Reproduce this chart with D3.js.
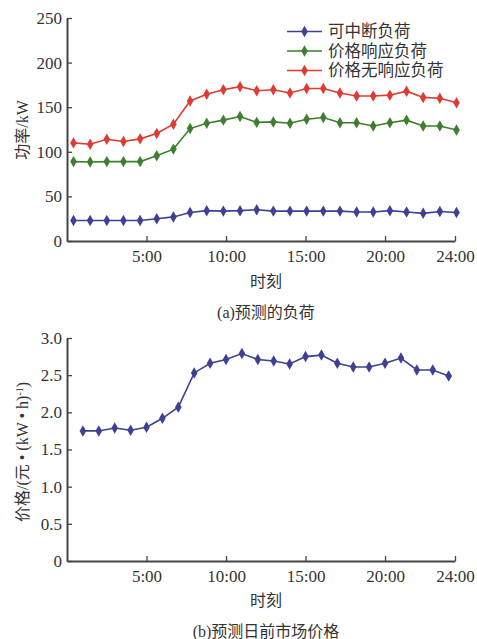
<!DOCTYPE html>
<html>
<head>
<meta charset="utf-8">
<script src="https://cdn.jsdelivr.net/npm/d3@7"></script>
<style>
  body { margin: 0; background: #fff; }
  text { font-family: "Liberation Serif", "Noto Sans CJK SC", serif; fill: #333; }
</style>
</head>
<body>
<div id="chart"></div>
<script>
// data
let hours = d3.range(1, 25);
let seriesNames = ["可中断负荷", "价格响应负荷", "价格无响应负荷"];
let interruptible = [23, 23, 23, 23, 23, 25, 27, 32, 34, 33.5, 34, 35, 33.5, 33.5, 33.5, 33.5, 33.5, 32.5, 32.5, 34, 32.5, 31, 33, 32];
let priceResponsive = [89, 88.5, 89, 89, 89, 95.5, 103, 126, 132, 135.5, 139.5, 133, 133.5, 132, 136.5, 138.5, 132.5, 132.5, 129, 132.5, 135.5, 129, 129, 124.5];
let nonResponsive = [110, 108.5, 114, 111.5, 114.5, 120.5, 131, 157, 164.5, 169.5, 173, 168.5, 169.5, 166, 171, 171, 166, 162.5, 162.5, 163.5, 168, 161, 160, 155];
let price = [1.75, 1.75, 1.79, 1.76, 1.80, 1.92, 2.07, 2.53, 2.66, 2.71, 2.79, 2.71, 2.69, 2.65, 2.75, 2.77, 2.66, 2.61, 2.61, 2.66, 2.73, 2.57, 2.57, 2.49];
let loadTicks = [0, 50, 100, 150, 200, 250];
let priceTicks = [0, 0.5, 1.0, 1.5, 2.0, 2.5, 3.0];
let timeLabels = ["5:00", "10:00", "15:00", "20:00", "24:00"];

let width = 477, height = 639;
let colors = ["#3f3f94", "#3d7f2c", "#de3b32"];

let svg = d3.select("#chart").append("svg")
  .attr("width", width)
  .attr("height", height);

// time axis shared by both panels (last label sits at the axis end)
let xTime = d3.scaleLinear().domain([0, 24.4]).range([67, 455]);
let xTop = d3.scaleLinear().domain([1, 24]).range([73.5, 456.5]);

let yLoad = d3.scaleLinear().domain([0, 250]).range([241, 18]);
let yPrice = d3.scaleLinear().domain([0, 3]).range([561, 338]);

let diamond = d3.symbol().type(d3.symbolDiamond).size(38);

function drawAxes(y, ticks, fmt, yBase) {
  let xAxis = d3.axisBottom(xTime)
    .tickValues([5, 10, 15, 20, 24.4])
    .tickFormat(function(d, i) { return timeLabels[i]; })
    .tickSizeInner(-5)
    .tickSizeOuter(0)
    .tickPadding(9);
  let gx = svg.append("g")
    .attr("transform", "translate(0," + yBase + ")")
    .call(xAxis);

  let yAxis = d3.axisLeft(y)
    .tickValues(ticks)
    .tickFormat(fmt)
    .tickSizeInner(-5)
    .tickSizeOuter(0)
    .tickPadding(5);
  let gy = svg.append("g")
    .attr("transform", "translate(" + xTime(0) + ",0)")
    .call(yAxis);

  [gx, gy].forEach(function(g) {
    g.select(".domain").attr("stroke", "#444").attr("stroke-width", 2);
    g.selectAll(".tick line").attr("stroke", "#444").attr("stroke-width", 1.3);
    g.selectAll(".tick text")
      .style("font-family", "Liberation Serif")
      .style("font-size", "17px")
      .attr("fill", "#333");
  });
}

function drawSeries(values, xs, y, color) {
  let line = d3.line()
    .x(function(d, i) { return xs(hours[i]); })
    .y(function(d) { return y(d); });

  svg.append("path")
    .datum(values)
    .attr("fill", "none")
    .attr("stroke", color)
    .attr("stroke-width", 1.6)
    .attr("d", line);

  svg.append("g").selectAll("path")
    .data(values)
    .enter().append("path")
    .attr("d", diamond)
    .attr("fill", color)
    .attr("transform", function(d, i) {
      return "translate(" + xs(hours[i]) + "," + y(d) + ")";
    });
}

// (a) forecast load
drawAxes(yLoad, loadTicks, d3.format("d"), 241);
drawSeries(interruptible, xTop, yLoad, colors[0]);
drawSeries(priceResponsive, xTop, yLoad, colors[1]);
drawSeries(nonResponsive, xTop, yLoad, colors[2]);

// legend
let legend = svg.selectAll(".legend")
  .data(seriesNames)
  .enter().append("g")
  .attr("class", "legend")
  .attr("transform", function(_, i) {
    return "translate(287," + (31.5 + i * 19.5) + ")";
  });

legend.append("line")
  .attr("x1", 0).attr("x2", 35)
  .attr("stroke", function(_, i) { return colors[i]; })
  .attr("stroke-width", 1.6);

legend.append("path")
  .attr("d", diamond)
  .attr("transform", "translate(17.5,0)")
  .attr("fill", function(_, i) { return colors[i]; });

legend.append("text")
  .attr("x", 41)
  .attr("dy", "0.35em")
  .style("font-size", "16.5px")
  .text(function(d) { return d; });

svg.append("text")
  .attr("transform", "translate(22,130) rotate(-90)")
  .attr("text-anchor", "middle")
  .attr("dy", "0.35em")
  .style("font-size", "16px")
  .text("功率/kW");

svg.append("text")
  .attr("x", 266).attr("y", 281)
  .attr("text-anchor", "middle")
  .attr("dy", "0.35em")
  .style("font-size", "16px")
  .text("时刻");

svg.append("text")
  .attr("x", 266).attr("y", 312)
  .attr("text-anchor", "middle")
  .attr("dy", "0.35em")
  .style("font-size", "16px")
  .text("(a)预测的负荷");

// (b) forecast day-ahead market price
drawAxes(yPrice, priceTicks, function(d) { return d === 0 ? "0" : d3.format(".1f")(d); }, 561);
drawSeries(price, xTime, yPrice, colors[0]);

let yLabel = svg.append("text")
  .attr("transform", "translate(22,452) rotate(-90)")
  .attr("text-anchor", "middle")
  .attr("dy", "0.35em")
  .style("font-size", "16px");
yLabel.append("tspan").text("价格/(元 • (kW • h)");
yLabel.append("tspan").attr("baseline-shift", "super").style("font-size", "10px").text("-1");
yLabel.append("tspan").text(")");

svg.append("text")
  .attr("x", 266).attr("y", 600)
  .attr("text-anchor", "middle")
  .attr("dy", "0.35em")
  .style("font-size", "16px")
  .text("时刻");

svg.append("text")
  .attr("x", 266).attr("y", 631)
  .attr("text-anchor", "middle")
  .attr("dy", "0.35em")
  .style("font-size", "16px")
  .text("(b)预测日前市场价格");
</script>
</body>
</html>
